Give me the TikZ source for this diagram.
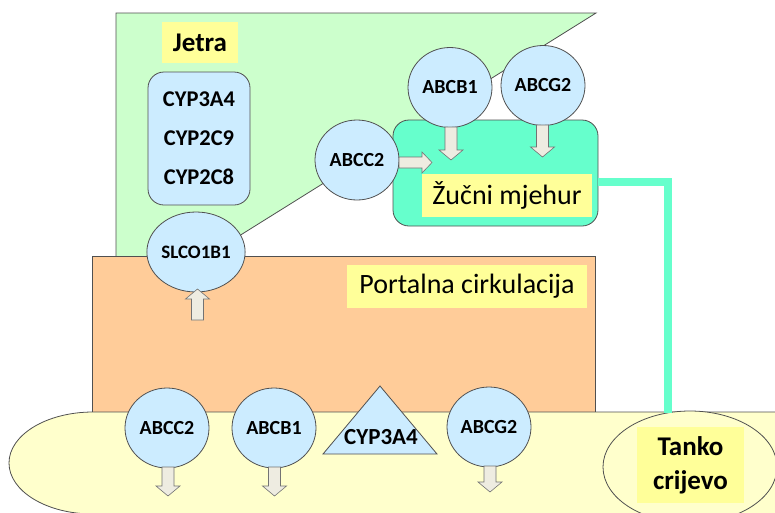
\documentclass[tikz,border=0pt]{standalone}
\usepackage{fontspec}
\setmainfont{Carlito}
\usetikzlibrary{shapes.geometric}
\definecolor{liver}{HTML}{CCFFCC}
\definecolor{prot}{HTML}{CCECFF}
\definecolor{lab}{HTML}{FFFF99}
\definecolor{portal}{HTML}{FFCC99}
\definecolor{bile}{HTML}{66FFCC}
\definecolor{gut}{HTML}{FFFFCC}
\definecolor{arrfill}{HTML}{EEECE1}
\definecolor{edge}{HTML}{505050}
\newcommand\myvarr[3]{\draw[blockarr] ({#1-6},#2) -- ({#1+6},#2) -- ({#1+6},{#3+10*sign(#2-#3)}) -- ({#1+12},{#3+10*sign(#2-#3)}) -- (#1,#3) -- ({#1-12},{#3+10*sign(#2-#3)}) -- ({#1-6},{#3+10*sign(#2-#3)}) -- cycle;}
\newcommand\myharr[3]{\draw[blockarr] (#1,{#3-5.5}) -- (#1,{#3+5.5}) -- ({#2-10},{#3+5.5}) -- ({#2-10},{#3+10.5}) -- (#2,#3) -- ({#2-10},{#3-10.5}) -- ({#2-10},{#3-5.5}) -- cycle;}
\begin{document}
\begin{tikzpicture}[x=1pt,y=-1pt,
  outl/.style={draw=edge, line width=0.8pt},
  protein/.style={ellipse, outl, fill=prot, minimum width=84pt, minimum height=80pt, inner sep=0pt, font=\fontsize{20}{22}\selectfont\bfseries},
  lbl/.style={fill=lab, inner sep=0pt},
  blockarr/.style={draw=edge!80, fill=arrfill, line width=0.6pt},
]
\useasboundingbox (0,0) rectangle (775,512);
% liver region
\draw[outl, fill=liver] (116,256) -- (116,13) -- (596,13) -- (207,256);
% portal circulation
\draw[outl, fill=portal] (92,412) rectangle (595,256);
% intestine
\draw[outl, fill=gut] (800,412) -- (93,412) arc[start angle=90, end angle=270, x radius=84pt, y radius=51pt] -- (800,514) -- cycle;
% CYP box
\node[outl, fill=prot, rounded corners=16pt, minimum width=102pt, minimum height=133pt, align=center, font=\fontsize{22.5}{39}\selectfont\bfseries] (cyp) at (199,138.5) {CYP3A4\\CYP2C9\\CYP2C8};
% Jetra label
\node[lbl, minimum width=76pt, minimum height=41pt, font=\fontsize{27}{30}\selectfont\bfseries] (jetra) at (200,42.5) {Jetra};
% gallbladder
\node[outl, fill=bile, rounded corners=16pt, minimum width=205pt, minimum height=106pt] (gb) at (495.5,173) {};
\node[lbl, minimum width=170pt, minimum height=43pt, font=\fontsize{28}{30}\selectfont] (gblab) at (507,195.5) {Žučni mjehur};
% portal label
\node[lbl, minimum width=240pt, minimum height=43pt, font=\fontsize{28}{30}\selectfont] (portlab) at (467,286.5) {Portalna cirkulacija};
% small intestine
\node[ellipse, outl, fill=gut, minimum width=174pt, minimum height=112pt] (tanko) at (690,467) {};
\node[lbl, minimum width=107pt, minimum height=76pt, align=center, font=\fontsize{27}{34}\selectfont\bfseries] (tankolab) at (690.5,465) {Tanko\\crijevo};
\coordinate (bend) at (667.5,182);
\draw[bile, line width=8pt] (gb.east |- bend) -- (bend) -- (bend |- tanko.113);
% proteins
\node[protein, font=\fontsize{19}{22}\selectfont\bfseries] (slco) at (196,252) {SLCO1B1};
\node[protein] (abcc2t) at (357,160) {ABCC2};
\node[protein] (abcb1t) at (450,87.5) {ABCB1};
\node[protein] (abcg2t) at (543,85.5) {ABCG2};
\node[protein] (abcc2b) at (167,428) {ABCC2};
\node[protein] (abcb1b) at (274,428) {ABCB1};
\node[protein] (abcg2b) at (489,427) {ABCG2};
\draw[outl, fill=prot] (380,386) -- (437,454) -- (323,454) -- cycle;
\node[font=\fontsize{23}{26}\selectfont\bfseries, inner sep=0pt] (cyptri) at (381,437) {CYP3A4};
% block arrows
\myvarr{197.5}{320}{289}
\myharr{399}{432}{162.5}
\myvarr{451}{127}{160}
\myvarr{542.5}{125}{157}
\myvarr{168}{467}{496}
\myvarr{274.5}{467}{496}
\myvarr{490}{466}{492}
\end{tikzpicture}
\end{document}
